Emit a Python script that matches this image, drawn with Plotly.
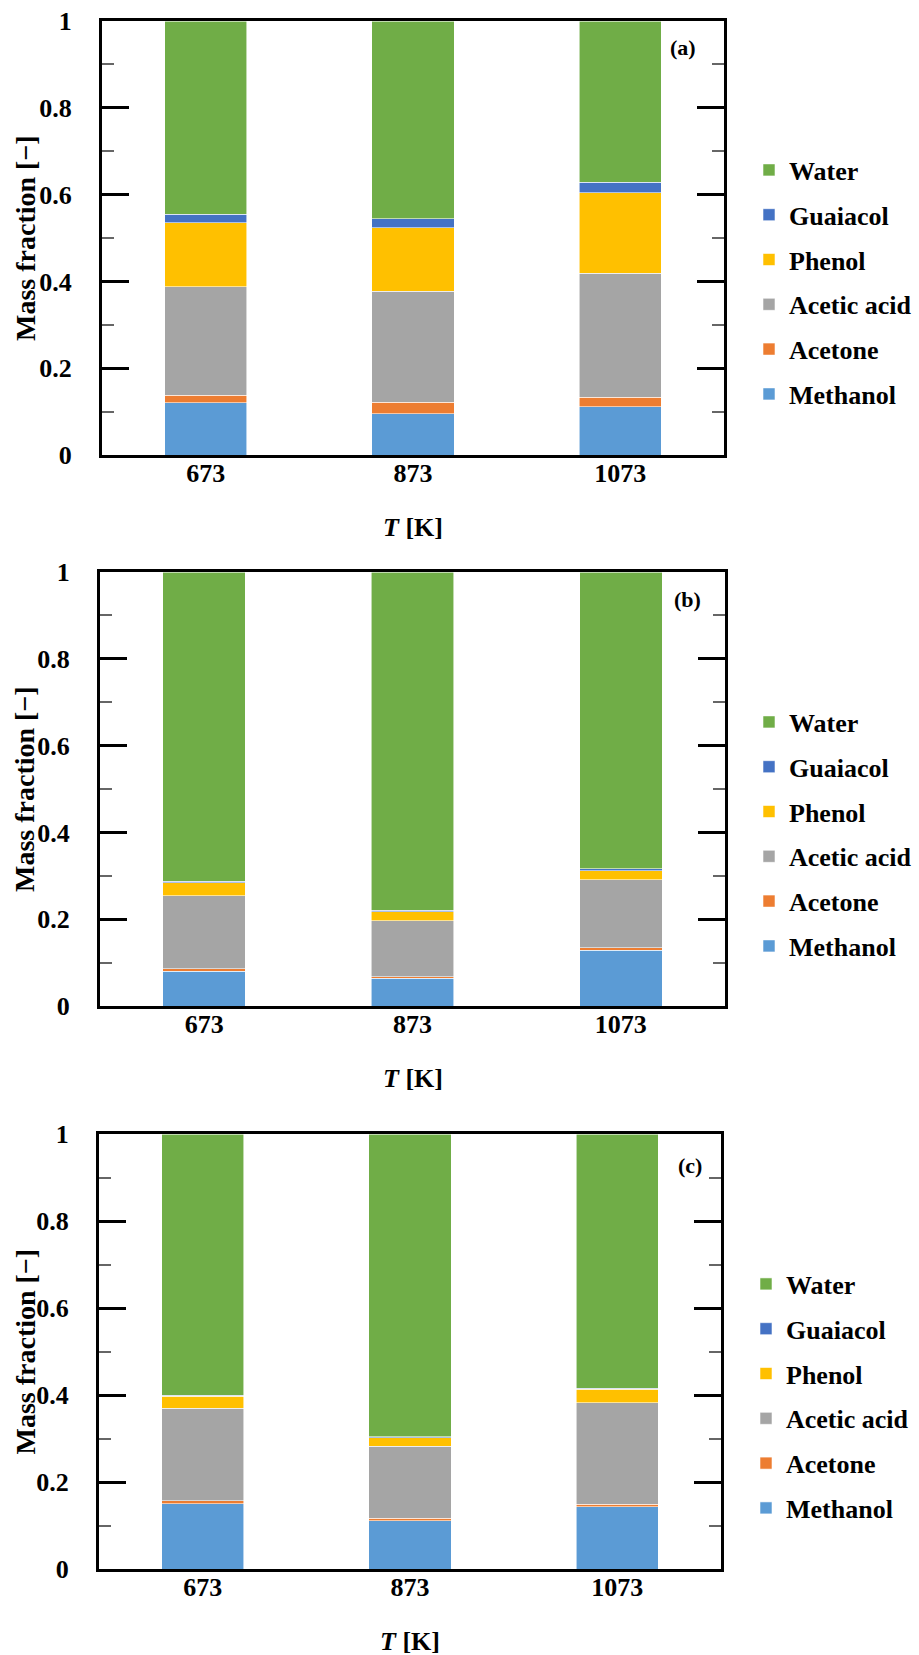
import plotly.graph_objects as go

# Canvas size in px
W, H = 919, 1655

temps = ["673", "873", "1073"]
species = ["Methanol", "Acetone", "Acetic acid", "Phenol", "Guaiacol", "Water"]
colors = ["#5B9BD5", "#ED7D31", "#A5A5A5", "#FFC000", "#4472C4", "#70AD47"]

# Panel (a) mass fractions
methanol_a = [0.120, 0.095, 0.111]
acetone_a = [0.018, 0.026, 0.022]
acetic_a = [0.250, 0.256, 0.286]
phenol_a = [0.147, 0.147, 0.185]
guaiacol_a = [0.020, 0.020, 0.025]
water_a = [0.445, 0.456, 0.371]

# Panel (b) mass fractions
methanol_b = [0.080, 0.064, 0.128]
acetone_b = [0.006, 0.003, 0.006]
acetic_b = [0.168, 0.130, 0.157]
phenol_b = [0.030, 0.020, 0.021]
guaiacol_b = [0.004, 0.004, 0.004]
water_b = [0.712, 0.779, 0.684]

# Panel (c) mass fractions
methanol_c = [0.150, 0.111, 0.143]
acetone_c = [0.007, 0.006, 0.006]
acetic_c = [0.213, 0.165, 0.233]
phenol_c = [0.027, 0.020, 0.031]
guaiacol_c = [0.003, 0.002, 0.002]
water_c = [0.600, 0.696, 0.585]

y_tickvals = [0, 0.2, 0.4, 0.6, 0.8, 1]
y_ticktext = ["0", "0.2", "0.4", "0.6", "0.8", "1"]
panel_labels = ["(a)", "(b)", "(c)"]

panels = [
    [methanol_a, acetone_a, acetic_a, phenol_a, guaiacol_a, water_a],
    [methanol_b, acetone_b, acetic_b, phenol_b, guaiacol_b, water_b],
    [methanol_c, acetone_c, acetic_c, phenol_c, guaiacol_c, water_c],
]

# plot-area boxes in px: (left, right, top, bottom)
boxes = [(102, 724, 21, 455), (100, 725, 572, 1006), (99, 721, 1134, 1569)]
legend_mid = [282, 834, 1396]
legend_left = [749, 749, 746]
label_pos = [(683, 48), (687, 599), (690, 1165)]

FONT = "Times New Roman, Liberation Serif, serif"


def px_x(v):
    return v / W


def px_y(v):
    return 1 - v / H


fig = go.Figure()

for p, series in enumerate(panels):
    sfx = "" if p == 0 else str(p + 1)
    n = len(species)
    for k, (name, col, vals) in enumerate(zip(species, colors, series)):
        fig.add_trace(go.Bar(
            x=temps, y=vals, name=name,
            marker=dict(color=col, line=dict(color="rgba(255,255,255,0.7)", width=0.8)),
            xaxis="x" + sfx, yaxis="y" + sfx,
            legend="legend" + sfx,
            legendgroup=f"{name}{p}",
            legendrank=n - k,
        ))

layout = dict(
    width=W, height=H,
    margin=dict(l=0, r=0, t=0, b=0, autoexpand=False),
    paper_bgcolor="white", plot_bgcolor="white",
    barmode="stack", bargap=0.604,
    font=dict(family=FONT, size=26, color="black", weight="bold"),
    showlegend=True,
)

annotations = []
for p, (l, r, t, b) in enumerate(boxes):
    sfx = "" if p == 0 else str(p + 1)
    layout["xaxis" + sfx] = dict(
        domain=[px_x(l), px_x(r)], anchor="y" + sfx, type="category",
        showline=True, linecolor="black", linewidth=3, mirror=True,
        ticks="", showgrid=False, ticklabelstandoff=-7, automargin=False,
        tickfont=dict(family=FONT, size=26, weight="bold"),
    )
    layout["yaxis" + sfx] = dict(
        domain=[px_y(b), px_y(t)], anchor="x" + sfx, range=[0, 1],
        showline=True, linecolor="black", linewidth=3, mirror="allticks",
        ticks="inside", ticklen=27, tickwidth=3, tickcolor="black",
        tickvals=y_tickvals, ticktext=y_ticktext, showgrid=False,
        ticklabelstandoff=22, automargin=False,
        tickfont=dict(family=FONT, size=26, weight="bold"),
        minor=dict(ticks="inside", ticklen=12, tickwidth=2, tickcolor="#666666",
                   dtick=0.1, showgrid=False),
    )
    layout["legend" + sfx] = dict(
        x=px_x(legend_left[p]), xanchor="left",
        y=px_y(legend_mid[p]), yanchor="middle",
        traceorder="grouped", tracegroupgap=8,
        font=dict(family=FONT, size=26, weight="bold", color="black"),
        bgcolor="rgba(0,0,0,0)",
    )
    # axis titles
    annotations.append(dict(
        text="Mass fraction [\u2212]", textangle=-90,
        x=px_x(25), y=px_y((t + b) / 2), xref="paper", yref="paper",
        showarrow=False, xanchor="center", yanchor="middle",
        font=dict(family=FONT, size=28, weight="bold"),
    ))
    annotations.append(dict(
        text="<i>T</i> [K]",
        x=px_x((l + r) / 2), y=px_y(b + 72), xref="paper", yref="paper",
        showarrow=False, xanchor="center", yanchor="middle",
        font=dict(family=FONT, size=26, weight="bold"),
    ))
    lx, ly = label_pos[p]
    annotations.append(dict(
        text=panel_labels[p],
        x=px_x(lx), y=px_y(ly), xref="paper", yref="paper",
        showarrow=False, xanchor="center", yanchor="middle",
        font=dict(family=FONT, size=22, weight="bold"),
    ))

layout["annotations"] = annotations
fig.update_layout(**layout)

fig.write_html("out.html")
